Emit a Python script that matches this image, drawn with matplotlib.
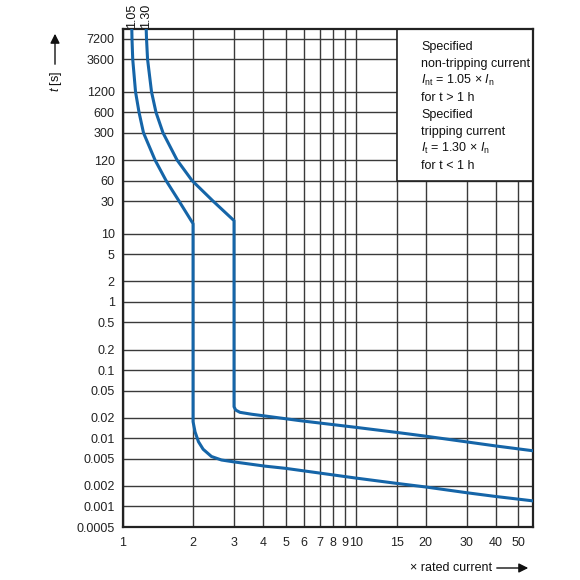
import numpy as np
import matplotlib
matplotlib.use('Agg')
import matplotlib.pyplot as plt
from matplotlib.patches import Rectangle

plt.rcParams['font.family'] = ['Liberation Sans', 'DejaVu Sans']
plt.rcParams['mathtext.fontset'] = 'custom'
plt.rcParams['mathtext.rm'] = 'Liberation Sans'
plt.rcParams['mathtext.it'] = 'Liberation Sans:italic'

# curve for 1.05 x In (non-tripping)
x_nt = [1.091, 1.093, 1.101, 1.132, 1.172, 1.225, 1.373, 1.531, 1.741, 2.0,
        2.0, 2.04, 2.11, 2.21, 2.40, 2.65, 3.0, 4.08, 5, 10, 15, 20, 30, 40,
        57.5]
t_nt = [10000, 7200, 3600, 1200, 600, 300, 120, 60, 30, 14,
        0.0175, 0.0124, 0.0089, 0.0069, 0.0054, 0.0048, 0.0045, 0.0039,
        0.00362, 0.00261, 0.00218, 0.00193, 0.00159, 0.0014, 0.00121]
# curve for 1.30 x In (tripping)
x_t = [1.258, 1.262, 1.275, 1.326, 1.386, 1.486, 1.707, 1.98, 2.438, 3.0,
       3.0, 3.05, 3.18, 3.57, 4.08, 5.77, 10, 15, 20, 30, 40, 57.5]
t_t = [10000, 7200, 3600, 1200, 600, 300, 120, 60, 30, 15.5,
       0.029, 0.0259, 0.024, 0.0225, 0.0212, 0.0181, 0.01446, 0.01218,
       0.01072, 0.00884, 0.00771, 0.00657]

yticks = [7200, 3600, 1200, 600, 300, 120, 60, 30, 10, 5, 2, 1, 0.5, 0.2, 0.1,
          0.05, 0.02, 0.01, 0.005, 0.002, 0.001, 0.0005]
ylabels = ['7200', '3600', '1200', '600', '300', '120', '60', '30', '10', '5',
           '2', '1', '0.5', '0.2', '0.1', '0.05', '0.02', '0.01', '0.005',
           '0.002', '0.001', '0.0005']
xticks = [1, 2, 3, 4, 5, 6, 7, 8, 9, 10, 15, 20, 30, 40, 50]
curve_labels = ['1.05', '1.30']

box_lines = ['Specified', 'non-tripping current',
             r'$I_{\mathrm{nt}}$ = 1.05 × $I_{\mathrm{n}}$', 'for t > 1 h',
             'Specified', 'tripping current',
             r'$I_{\mathrm{t}}$ = 1.30 × $I_{\mathrm{n}}$', 'for t < 1 h']

W = 580.0
fs = 9
fig = plt.figure(figsize=(5.8, 5.8), dpi=100)
ax = fig.add_axes([123/W, 1-527/W, (532.5-123)/W, (527-29)/W])
ax.set_xscale('log')
ax.set_yscale('log')
ax.set_xlim(1, 57.5)
ax.set_ylim(0.0005, 10000)

ax.set_yticks(yticks)
ax.set_yticklabels(ylabels)
ax.set_xticks(xticks)
ax.set_xticklabels([str(v) for v in xticks])
ax.minorticks_off()
ax.tick_params(length=0, labelsize=fs, colors='#222222')
ax.tick_params(axis='y', pad=6)
ax.tick_params(axis='x', pad=7)
ax.grid(True, color='#3a3a3a', lw=1.0)
ax.set_axisbelow(True)
for s in ax.spines.values():
    s.set_linewidth(1.6)
    s.set_color('#222222')

blue = '#1565a8'
ax.plot(x_nt, t_nt, color=blue, lw=2.2, zorder=3, solid_joinstyle='round')
ax.plot(x_t, t_t, color=blue, lw=2.2, zorder=3, solid_joinstyle='round')

# legend box top right
ax.add_patch(Rectangle((15, 60), 57.5-15, 10000-60, facecolor='white',
                       edgecolor='#222222', lw=1.2, zorder=2.5))
for i, line in enumerate(box_lines):
    fig.text(421/W, 1-(50+17*i)/W, line, fontsize=fs, va='baseline',
             ha='left', color='#111111')

# labels above curves
for xv, lab in zip([x_nt[0], x_t[0]], curve_labels):
    ax.text(xv, 1.003, lab, transform=ax.get_xaxis_transform(), rotation=90,
            ha='center', va='bottom', fontsize=fs, color='#111111')

# y label with arrow
fig.text(56/W, 1-81/W, r'$t$ [s]', rotation=90, ha='center', va='center',
         fontsize=fs, color='#111111')
ax.annotate('', xy=(55/W, 1-31/W), xytext=(55/W, 1-67/W),
            xycoords='figure fraction', textcoords='figure fraction',
            arrowprops=dict(arrowstyle='-|>', color='#111111', lw=1.0,
                            mutation_scale=14))

# x label with arrow
fig.text(492/W, 1-568/W, '× rated current', ha='right', va='center',
         fontsize=fs, color='#111111')
ax.annotate('', xy=(531/W, 1-568/W), xytext=(494/W, 1-568/W),
            xycoords='figure fraction', textcoords='figure fraction',
            arrowprops=dict(arrowstyle='-|>', color='#111111', lw=1.0,
                            mutation_scale=14))

plt.savefig('out.png', dpi=100)
